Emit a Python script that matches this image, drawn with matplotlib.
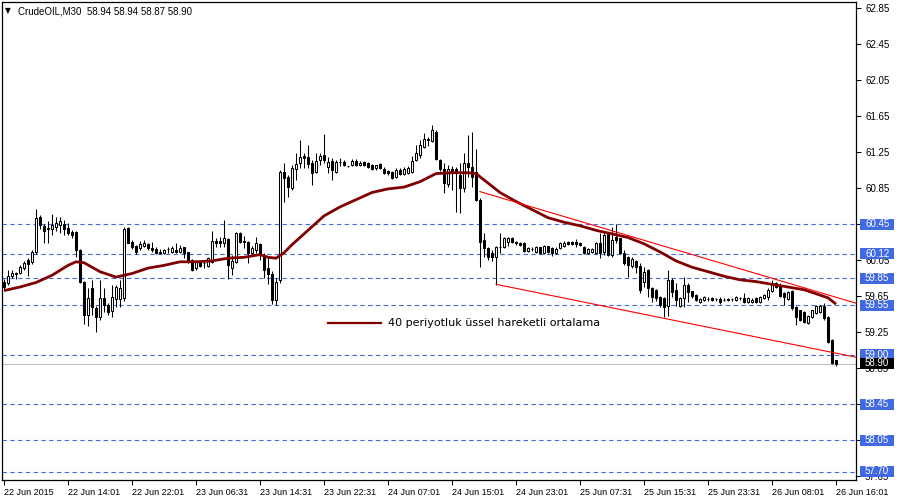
import matplotlib
matplotlib.use("Agg")
import matplotlib.pyplot as plt
from matplotlib.patches import Rectangle
from matplotlib.lines import Line2D
from matplotlib.transforms import blended_transform_factory

plt.rcParams['font.family'] = ['Liberation Sans', 'DejaVu Sans']

# ---------------- data ----------------
symbol = "CrudeOIL,M30"

opens = [
59.81, 59.80, 59.87, 59.89, 59.91, 59.96, 60.05, 60.03, 60.14, 60.53,
60.43, 60.41, 60.39, 60.42, 60.44, 60.45, 60.41, 60.36, 60.36, 60.16,
59.81, 59.44, 59.74, 59.52, 59.42, 59.63, 59.55, 59.48, 59.62, 59.62,
59.63, 60.41, 60.25, 60.20, 60.18, 60.21, 60.23, 60.18, 60.17, 60.14,
60.13, 60.17, 60.14, 60.16, 60.14, 60.20, 60.14, 60.05, 59.96, 60.03,
60.02, 59.98, 60.03, 60.26, 60.26, 60.24, 60.28, 59.96, 60.03, 60.35,
60.26, 60.25, 60.13, 60.16, 60.23, 60.11, 59.96, 59.89, 59.61, 59.83,
61.03, 60.97, 60.85, 61.06, 61.13, 61.20, 61.20, 61.13, 61.03, 61.16,
61.22, 61.08, 61.15, 61.03, 61.14, 61.14, 61.09, 61.11, 61.15, 61.11,
61.14, 61.13, 61.10, 61.07, 61.12, 61.06, 61.04, 61.03, 60.97, 61.05,
61.01, 61.02, 61.03, 61.16, 61.22, 61.31, 61.38, 61.37, 61.47, 61.16,
61.06, 60.89, 61.06, 61.06, 60.99, 60.85, 61.13, 61.08, 61.03, 60.72,
60.27, 60.18, 60.13, 60.08, 60.19, 60.19, 60.25, 60.30, 60.25, 60.24,
60.24, 60.15, 60.17, 60.14, 60.19, 60.13, 60.20, 60.18, 60.13, 60.18,
60.21, 60.25, 60.25, 60.25, 60.24, 60.20, 60.13, 60.14, 60.13, 60.24,
60.14, 60.34, 60.11, 60.31, 60.29, 60.13, 60.08, 59.98, 60.04, 59.98,
59.81, 59.94, 59.74, 59.72, 59.64, 59.63, 59.54, 59.83, 59.72, 59.54,
59.63, 59.77, 59.70, 59.66, 59.58, 59.61, 59.62, 59.63, 59.62, 59.62,
59.61, 59.61, 59.62, 59.61, 59.63, 59.63, 59.58, 59.58, 59.63, 59.58,
59.63, 59.64, 59.71, 59.80, 59.77, 59.68, 59.62, 59.70, 59.53, 59.49,
59.47, 59.35, 59.42, 59.46, 59.47, 59.54, 59.42, 59.16, 58.94]

highs = [
59.84, 59.94, 59.94, 59.92, 59.99, 60.04, 60.07, 60.16, 60.62, 60.55,
60.45, 60.48, 60.56, 60.53, 60.53, 60.49, 60.46, 60.38, 60.37, 60.17,
59.82, 59.74, 59.83, 59.54, 59.83, 59.74, 59.57, 59.77, 59.77, 59.83,
60.42, 60.42, 60.27, 60.22, 60.26, 60.27, 60.24, 60.25, 60.19, 60.17,
60.17, 60.19, 60.21, 60.24, 60.22, 60.20, 60.14, 60.06, 60.05, 60.04,
60.05, 60.08, 60.37, 60.30, 60.31, 60.49, 60.30, 60.11, 60.36, 60.36,
60.32, 60.26, 60.21, 60.31, 60.24, 60.13, 60.08, 59.93, 59.85, 61.05,
61.13, 60.99, 61.11, 61.24, 61.38, 61.24, 61.33, 61.16, 61.24, 61.24,
61.45, 61.19, 61.18, 61.16, 61.18, 61.16, 61.10, 61.17, 61.17, 61.15,
61.15, 61.14, 61.12, 61.11, 61.13, 61.08, 61.05, 61.04, 61.07, 61.07,
61.08, 61.09, 61.21, 61.33, 61.38, 61.46, 61.42, 61.55, 61.50, 61.17,
61.13, 61.11, 61.10, 61.08, 61.13, 61.24, 61.44, 61.47, 61.28, 60.74,
60.35, 60.19, 60.16, 60.21, 60.35, 60.31, 60.31, 60.31, 60.26, 60.25,
60.25, 60.19, 60.19, 60.21, 60.20, 60.22, 60.21, 60.19, 60.19, 60.25,
60.26, 60.26, 60.26, 60.28, 60.25, 60.21, 60.18, 60.18, 60.25, 60.35,
60.36, 60.36, 60.42, 60.45, 60.30, 60.16, 60.09, 60.08, 60.05, 60.02,
59.97, 59.95, 59.75, 59.73, 59.65, 59.64, 59.94, 59.85, 59.80, 59.64,
59.86, 59.80, 59.71, 59.67, 59.63, 59.65, 59.64, 59.64, 59.63, 59.64,
59.63, 59.63, 59.63, 59.65, 59.64, 59.68, 59.64, 59.63, 59.64, 59.65,
59.67, 59.74, 59.83, 59.81, 59.79, 59.69, 59.71, 59.72, 59.54, 59.50,
59.48, 59.44, 59.50, 59.55, 59.55, 59.57, 59.43, 59.17, 58.94]

lows = [
59.72, 59.77, 59.85, 59.84, 59.89, 59.94, 59.87, 60.01, 60.12, 60.40,
60.24, 60.24, 60.33, 60.37, 60.35, 60.33, 60.33, 60.30, 60.08, 59.80,
59.34, 59.32, 59.44, 59.25, 59.38, 59.47, 59.44, 59.42, 59.53, 59.53,
59.60, 60.24, 60.17, 60.12, 60.16, 60.19, 60.16, 60.14, 60.12, 60.12,
60.12, 60.13, 60.13, 60.13, 60.13, 60.07, 60.02, 59.93, 59.94, 59.97,
59.96, 59.97, 60.02, 60.20, 60.20, 60.20, 59.84, 59.88, 60.02, 60.24,
60.18, 60.02, 60.11, 60.13, 60.05, 59.85, 59.78, 59.56, 59.55, 59.80,
60.70, 60.75, 60.83, 60.94, 61.07, 61.07, 61.07, 60.88, 61.02, 61.11,
61.13, 61.02, 60.94, 61.02, 61.09, 61.09, 61.08, 61.10, 61.10, 61.10,
61.10, 61.07, 61.05, 61.05, 61.06, 61.01, 61.00, 60.95, 60.96, 61.00,
61.00, 61.01, 61.02, 61.15, 61.18, 61.30, 61.32, 61.36, 61.16, 61.04,
60.80, 60.86, 60.83, 60.58, 60.57, 60.81, 60.97, 60.86, 60.71, 59.97,
60.08, 60.05, 60.04, 59.77, 60.13, 60.18, 60.21, 60.24, 60.22, 60.21,
60.14, 60.14, 60.15, 60.13, 60.12, 60.12, 60.13, 60.10, 60.12, 60.17,
60.20, 60.22, 60.22, 60.20, 60.21, 60.12, 60.12, 60.13, 60.12, 60.07,
60.11, 60.10, 60.08, 60.24, 60.12, 59.99, 59.86, 59.96, 59.91, 59.68,
59.75, 59.64, 59.58, 59.60, 59.53, 59.42, 59.43, 59.64, 59.54, 59.53,
59.53, 59.58, 59.63, 59.59, 59.57, 59.60, 59.60, 59.60, 59.60, 59.56,
59.59, 59.60, 59.60, 59.60, 59.61, 59.57, 59.57, 59.57, 59.57, 59.57,
59.62, 59.61, 59.70, 59.74, 59.64, 59.55, 59.61, 59.49, 59.33, 59.37,
59.35, 59.34, 59.41, 59.45, 59.46, 59.38, 59.13, 58.90, 58.87]

closes = [
59.75, 59.87, 59.91, 59.90, 59.97, 60.02, 60.01, 60.14, 60.52, 60.44,
60.37, 60.40, 60.44, 60.46, 60.48, 60.40, 60.35, 60.33, 60.16, 59.81,
59.44, 59.63, 59.53, 59.42, 59.63, 59.55, 59.47, 59.64, 59.75, 59.74,
60.40, 60.24, 60.20, 60.14, 60.23, 60.24, 60.18, 60.16, 60.13, 60.13,
60.16, 60.17, 60.18, 60.14, 60.18, 60.13, 60.03, 59.94, 60.03, 59.98,
60.02, 60.07, 60.26, 60.24, 60.24, 60.30, 60.00, 60.04, 60.35, 60.25,
60.25, 60.13, 60.18, 60.24, 60.11, 59.94, 59.89, 59.61, 59.81, 61.03,
60.96, 60.86, 61.07, 61.12, 61.20, 61.18, 61.12, 61.02, 61.15, 61.20,
61.16, 61.14, 61.05, 61.14, 61.14, 61.11, 61.09, 61.15, 61.11, 61.13,
61.11, 61.08, 61.06, 61.10, 61.07, 61.02, 61.02, 60.96, 61.05, 61.01,
61.06, 61.07, 61.15, 61.24, 61.33, 61.39, 61.39, 61.50, 61.17, 61.06,
60.91, 61.06, 61.04, 61.03, 60.85, 61.13, 61.08, 60.97, 60.72, 60.25,
60.18, 60.08, 60.08, 60.19, 60.20, 60.30, 60.30, 60.25, 60.24, 60.22,
60.15, 60.18, 60.17, 60.19, 60.13, 60.21, 60.14, 60.13, 60.17, 60.24,
60.24, 60.23, 60.23, 60.23, 60.22, 60.13, 60.17, 60.17, 60.24, 60.13,
60.33, 60.11, 60.27, 60.27, 60.13, 60.02, 59.99, 60.06, 59.97, 59.72,
59.92, 59.74, 59.64, 59.63, 59.55, 59.53, 59.83, 59.70, 59.61, 59.63,
59.77, 59.70, 59.65, 59.61, 59.62, 59.64, 59.62, 59.61, 59.62, 59.58,
59.61, 59.62, 59.62, 59.64, 59.63, 59.58, 59.63, 59.61, 59.58, 59.64,
59.66, 59.72, 59.80, 59.75, 59.65, 59.64, 59.70, 59.52, 59.42, 59.38,
59.36, 59.43, 59.49, 59.54, 59.54, 59.41, 59.14, 58.91, 58.90]

# 40-period EMA (bar index, value)
ema_idx = [0, 4, 8, 12, 16, 18, 20, 24, 28, 32, 36, 40, 44, 48, 52, 56, 60, 64, 66, 68,
           70, 72, 76, 80, 84, 88, 92, 96, 100, 104, 108, 112, 116, 118, 120, 124, 128, 132, 136, 140,
           144, 148, 152, 156, 160, 164, 168, 172, 176, 180, 184, 188, 192, 196, 200, 204, 206, 208]
ema_vals = [59.71, 59.75, 59.80, 59.88, 59.99, 60.03, 60.02, 59.92, 59.86, 59.90,
            59.96, 59.99, 60.03, 60.03, 60.04, 60.07, 60.08, 60.11, 60.08, 60.07,
            60.13, 60.22, 60.38, 60.54, 60.64, 60.72, 60.80, 60.84, 60.86, 60.92,
            61.01, 61.02, 61.02, 61.01, 60.94, 60.80, 60.70, 60.61, 60.52, 60.47,
            60.43, 60.38, 60.34, 60.30, 60.23, 60.14, 60.04, 59.97, 59.92, 59.87,
            59.83, 59.81, 59.78, 59.75, 59.72, 59.66, 59.63, 59.56]

# trend lines (bar index, price)
upper_trend_x = [119, 213]
upper_trend_y = [60.81, 59.57]
lower_trend_x = [123, 213]
lower_trend_y = [59.78, 58.97]

# horizontal levels
levels = [60.45, 60.12, 59.85, 59.55, 59.00, 58.45, 58.05, 57.70]
last_price = 58.90

# axis ticks
price_ticks = [62.85, 62.45, 62.05, 61.65, 61.25, 60.85, 60.45, 60.05,
               59.65, 59.25, 58.85, 58.45, 58.05, 57.65]
time_tick_idx = [0, 16, 32, 48, 64, 80, 96, 112, 128, 144, 160, 176, 192, 208]
time_tick_labels = ["22 Jun 2015", "22 Jun 14:01", "22 Jun 22:01", "23 Jun 06:31",
                    "23 Jun 14:31", "23 Jun 22:31", "24 Jun 07:01", "24 Jun 15:01",
                    "24 Jun 23:01", "25 Jun 07:31", "25 Jun 15:31", "25 Jun 23:31",
                    "26 Jun 08:01", "26 Jun 16:01"]
legend_label = "40 periyotluk üssel hareketli ortalama"

# ---------------- drawing ----------------
W, H = 900, 500
fig = plt.figure(figsize=(9, 5), dpi=100)
fig.patch.set_facecolor("white")
ax = fig.add_axes([2 / W, 20 / H, 854 / W, 478 / H])
ax.set_facecolor("white")

top_price = 62.85 + 6 / 90
bottom_price = top_price - 478 / 90
ax.set_xlim(-0.5, 213)
ax.set_ylim(bottom_price, top_price)

BLUE = "#4169E1"
LBL = 6.5
PLBL = 7

# dashed levels
for lv in levels:
    ax.axhline(lv, color=BLUE, lw=0.8, linestyle=(0, (4, 3)), zorder=1)
ax.axhline(last_price, color="#C0C0C0", lw=0.8, zorder=1)

# candles
body_w = 0.5
for i, (o, h, l, c) in enumerate(zip(opens, highs, lows, closes)):
    ax.vlines(i, l, h, color="black", lw=0.75, zorder=3)
    bottom = min(o, c)
    height = abs(c - o)
    face = "white" if c > o else "black"
    ax.add_patch(Rectangle((i - body_w / 2, bottom), body_w, height,
                           facecolor=face, edgecolor="black", lw=0.75, zorder=4))

# EMA
ax.plot(ema_idx, ema_vals, color="#800000", lw=2.0, zorder=5,
        solid_joinstyle="round", solid_capstyle="butt")

# trend lines
ax.plot(upper_trend_x, upper_trend_y, color="red", lw=0.8, zorder=6)
ax.plot(lower_trend_x, lower_trend_y, color="red", lw=0.8, zorder=6)

# axes styling
for s in ax.spines.values():
    s.set_color("black")
    s.set_linewidth(0.9)

ax.yaxis.tick_right()
ax.set_yticks(price_ticks)
ax.set_yticklabels([f"{p:.2f}" for p in price_ticks])
ax.tick_params(axis="y", which="both", direction="out", length=3.5, width=0.75,
               pad=3, labelsize=PLBL, colors="black", left=False)
ax.set_xticks(time_tick_idx)
ax.set_xticklabels(time_tick_labels)
for lab in ax.get_xticklabels():
    lab.set_horizontalalignment("left")
ax.tick_params(axis="x", direction="out", length=3.5, width=0.75, pad=2,
               labelsize=LBL, colors="black")

# price labels on right axis
tr = blended_transform_factory(fig.transFigure, ax.transData)
box_h = 11 / 90
for lv in levels:
    fig.add_artist(Rectangle((860 / W, lv - box_h / 2), 34 / W, box_h,
                             transform=tr, facecolor=BLUE, edgecolor="none", zorder=5))
    fig.text(865 / W, lv, f"{lv:.2f}", transform=tr, color="white", fontsize=PLBL,
             va="center", ha="left", zorder=6)
fig.add_artist(Rectangle((860 / W, last_price - box_h / 2), 34 / W, box_h,
                         transform=tr, facecolor="black", edgecolor="none", zorder=5))
fig.text(865 / W, last_price, f"{last_price:.2f}", transform=tr, color="white",
         fontsize=PLBL, va="center", ha="left", zorder=6)

# title
fig.text(5 / W, 1 - 11 / H, "▼", fontsize=5.5, color="black", va="center", ha="left",
         family=["DejaVu Sans"])
fig.text(18 / W, 1 - 11 / H,
         f"{symbol}  {opens[-1]:.2f} {highs[-1]:.2f} {lows[-1]:.2f} {closes[-1]:.2f}",
         fontsize=PLBL, color="black", va="center", ha="left")

# legend
fig.add_artist(Line2D([328 / W, 381 / W], [1 - 323 / H, 1 - 323 / H],
                      transform=fig.transFigure, color="#800000", lw=1.6))
fig.text(388 / W, 1 - 323 / H, legend_label, fontsize=8, color="black",
         va="center", ha="left", family=["DejaVu Sans"])

fig.savefig("out.png", dpi=100)
